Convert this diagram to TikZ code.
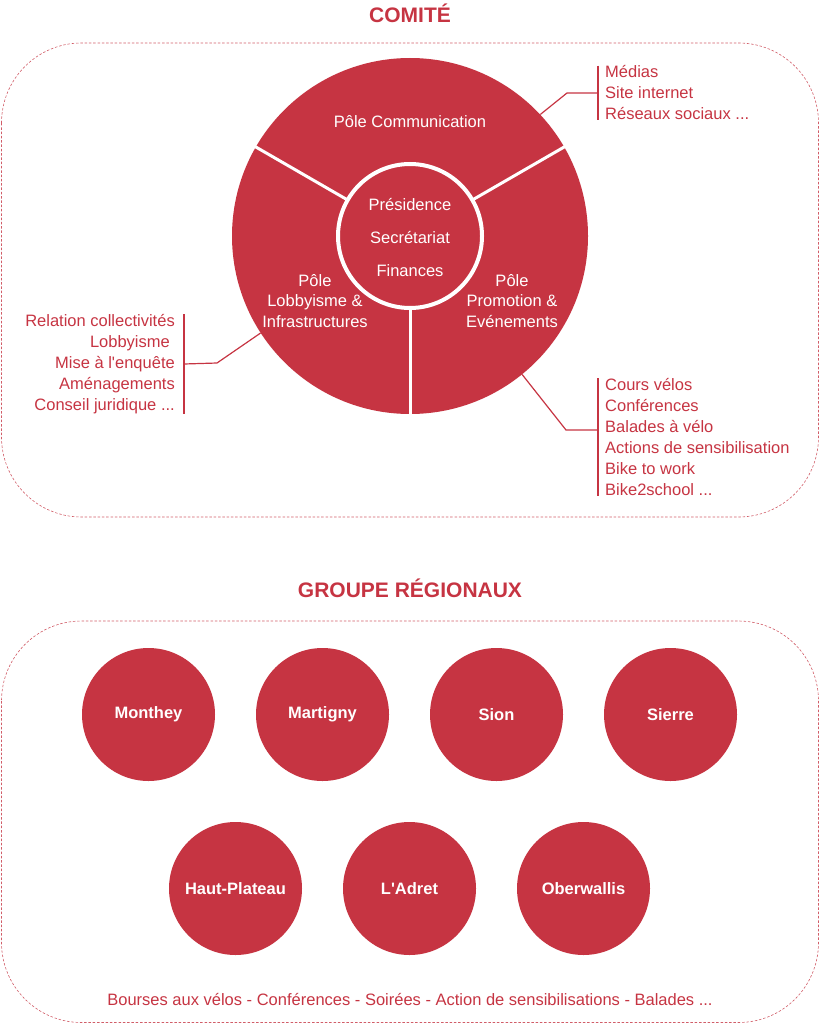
\documentclass[tikz,border=0pt]{standalone}
\usepackage{fontspec}
\setmainfont{Liberation Sans}
\definecolor{velored}{HTML}{C63442}
\tikzset{
  listtext/.style={font=\fontsize{16.5}{21}\selectfont, text=velored, inner sep=0pt},
  poletext/.style={font=\fontsize{16.5}{20.5}\selectfont, text=white, align=center, inner sep=0pt},
  link/.style={draw=velored, line width=1.2pt},
  bar/.style={draw=velored, line width=1.4pt},
  divider/.style={draw=white, line width=3pt, shorten >=-2pt},
  dashbox/.style={draw=velored!80, line width=0.6pt, dash pattern=on 2.5pt off 1.8pt, rounded corners=80pt},
  group/.style={circle, fill=velored, minimum size=133pt, inner sep=0pt, text=white, font=\fontsize{16.5}{20}\selectfont\bfseries},
  title/.style={text=velored, font=\fontsize{21}{25}\selectfont\bfseries}
}
\begin{document}
\begin{tikzpicture}[x=1pt, y=-1pt]
    \useasboundingbox (0,0) rectangle (820,1024);
    %% Comite
    \node[title] (comite) at (410,13) {COMITÉ};
    \draw[dashbox] (1.5,43) rectangle (818.5,517);
    \node[circle, fill=velored, minimum size=356pt, inner sep=0pt] (pie) at (410,236) {};
    \draw[divider] (pie.center) -- (pie.30);
    \draw[divider] (pie.center) -- (pie.150);
    \draw[divider] (pie.center) -- (pie.270);
    \node[circle, fill=velored, draw=white, line width=4pt, minimum size=144pt, inner sep=0pt] (core) at (410,236) {};
    \node[poletext, font=\fontsize{16.5}{33}\selectfont] (bureau) at (410,238) {Présidence\\Secrétariat\\Finances};
    \node[poletext] (com) at (410,122) {Pôle Communication};
    \node[poletext] (lob) at (315,301) {Pôle\\Lobbyisme \&\\Infrastructures};
    \node[poletext] (pro) at (512,301) {Pôle\\Promotion \&\\Evénements};
    %% Listes
    \node[listtext, anchor=west, align=left] (medias) at (605,93) {Médias\\Site internet\\Réseaux sociaux ...};
    \node[listtext, anchor=east, align=right] (lobbylist) at (175,364) {Relation collectivités\\Lobbyisme\kern5pt\\Mise à l\textquotesingle enquête\\Aménagements\\Conseil juridique ...};
    \node[listtext, anchor=west, align=left] (promolist) at (605,437) {Cours vélos\\Conférences\\Balades à vélo\\Actions de sensibilisation\\Bike to work\\Bike2school ...};
    \draw[bar] ([xshift=-7pt]medias.north west) -- ([xshift=-7pt]medias.south west);
    \draw[bar] ([xshift=9pt]lobbylist.north east) -- ([xshift=9pt]lobbylist.south east);
    \draw[bar] ([xshift=-7pt]promolist.north west) -- ([xshift=-7pt]promolist.south west);
    \coordinate (kcom) at (567,93);
    \draw[link] (pie.43) -- (kcom) -- ([xshift=-7pt]medias.west); %% Communication
    \coordinate (klob) at (217,363);
    \draw[link] (pie.213) -- (klob) -- ([xshift=9pt]lobbylist.east); %% Lobbyisme
    \coordinate (kpro) at (566,430);
    \coordinate (probar) at ([xshift=-7pt]promolist.west);
    \draw[link] (pie.309) -- (kpro) -- (kpro -| probar); %% Promotion
    %% Groupes regionaux
    \node[title] (groupes) at (410,588) {GROUPE RÉGIONAUX};
    \draw[dashbox] (1.5,621) rectangle (818.5,1022.5);
    \node[group] (monthey) at (148.5,714.5) {Monthey};
    \node[group] (martigny) at (322.5,714.5) {Martigny};
    \node[group] (sion) at (496.5,714.5) {Sion};
    \node[group] (sierre) at (670.5,714.5) {Sierre};
    \node[group] (hautplateau) at (235.5,888.5) {Haut-Plateau};
    \node[group] (adret) at (409.5,888.5) {L\textquotesingle Adret};
    \node[group] (oberwallis) at (583.5,888.5) {Oberwallis};
    \node[listtext] (activites) at (410,999) {Bourses aux vélos - Conférences - Soirées - Action de sensibilisations - Balades ...};
\end{tikzpicture}
\end{document}
